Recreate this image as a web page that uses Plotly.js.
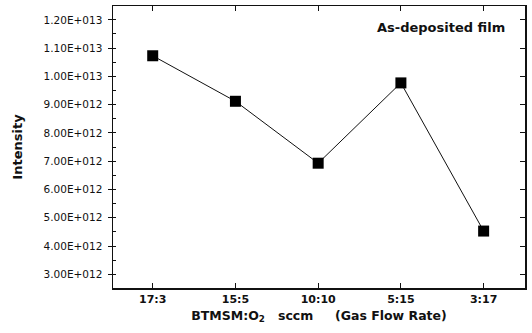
<!DOCTYPE html>
<html><head><meta charset="utf-8">
<script src="https://cdn.plot.ly/plotly-3.0.1.min.js"></script>
<style>html,body{margin:0;padding:0;background:#fff}#c{width:532px;height:333px}</style>
</head><body><div id="c"></div>
<script>
const categories = ["17:3", "15:5", "10:10", "5:15", "3:17"];
const intensity = [1.073e13, 9.12e12, 6.93e12, 9.77e12, 4.53e12];
const yTickVals = [3e12, 4e12, 5e12, 6e12, 7e12, 8e12, 9e12, 1e13, 1.1e13, 1.2e13];
const yTickText = ["3.00E+012","4.00E+012","5.00E+012","6.00E+012","7.00E+012","8.00E+012","9.00E+012","1.00E+013","1.10E+013","1.20E+013"];
const xIdx = categories.map((c, i) => i);

const fontMain = "DejaVu Sans, Verdana, sans-serif";
const data = [{
  x: xIdx, y: intensity, type: 'scatter', mode: 'lines+markers',
  line: {color: '#111', width: 1},
  marker: {symbol: 'square', size: 11, color: '#000'},
  showlegend: false, cliponaxis: false
}, {
  x: xIdx, y: intensity, xaxis: 'x2', yaxis: 'y2', type: 'scatter', mode: 'none',
  showlegend: false, hoverinfo: 'skip'
}];
const layout = {
  width: 532, height: 333,
  margin: {l: 113, r: 7, t: 6, b: 45},
  paper_bgcolor: '#fff', plot_bgcolor: '#fff',
  xaxis: {
    range: [-0.48, 4.5], tickvals: xIdx, ticktext: categories,
    ticks: 'inside', ticklen: 5, tickcolor: '#111', linecolor: '#111', linewidth: 1.5,
    showline: true, showgrid: false, zeroline: false,
    tickfont: {family: fontMain, size: 11, color: '#111', weight: 'bold'},
    title: {text: 'BTMSM:O<sub>2</sub>&nbsp;&nbsp; sccm &nbsp;&nbsp;&nbsp;&nbsp;(Gas Flow Rate)', standoff: 6,
      font: {family: fontMain, size: 12.5, color: '#111', weight: 'bold'}}
  },
  yaxis: {
    range: [2.516e12, 1.249e13], tickvals: yTickVals, ticktext: yTickText,
    ticks: 'outside', ticklen: 4, tickcolor: '#111', linecolor: '#111', linewidth: 1.5,
    showline: true, showgrid: false, zeroline: false, ticklabelstandoff: 3,
    minor: {dtick: 5e11, ticks: 'inside', ticklen: 3, tickcolor: '#111', showgrid: false},
    tickfont: {family: fontMain, size: 10.5, color: '#111'},
    title: {text: 'Intensity', standoff: 18,
      font: {family: fontMain, size: 13, color: '#111', weight: 'bold'}}
  },
  xaxis2: {
    overlaying: 'x', side: 'top', range: [-0.48, 4.5], tickvals: xIdx, showticklabels: false,
    ticks: 'inside', ticklen: 5, tickcolor: '#111', linecolor: '#111', linewidth: 1.5,
    showline: true, showgrid: false, zeroline: false
  },
  yaxis2: {
    overlaying: 'y', side: 'right', range: [2.516e12, 1.249e13], tickvals: yTickVals, showticklabels: false,
    ticks: 'inside', ticklen: 5, tickcolor: '#111', linecolor: '#111', linewidth: 1.5,
    showline: true, showgrid: false, zeroline: false
  },
  annotations: [{
    text: 'As-deposited film', xref: 'paper', yref: 'paper', x: 0.956, y: 0.925,
    xanchor: 'right', yanchor: 'middle', showarrow: false,
    font: {family: fontMain, size: 13, color: '#111', weight: 'bold'}
  }]
};
Plotly.newPlot('c', data, layout, {displayModeBar: false, staticPlot: true});
</script>
</body></html>
